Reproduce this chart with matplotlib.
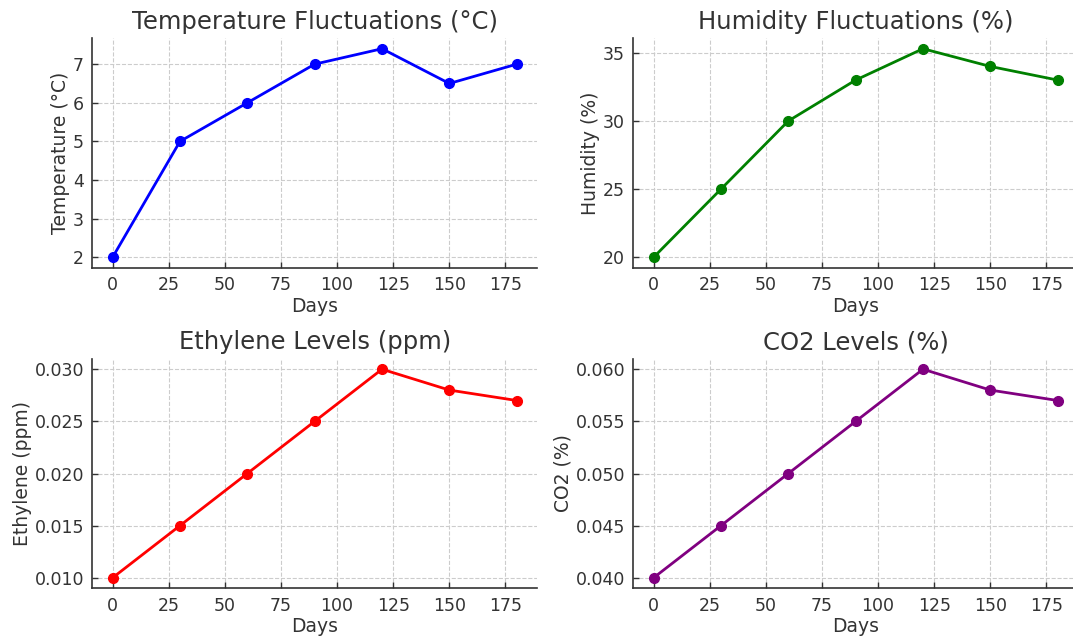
import matplotlib
matplotlib.use("Agg")
import matplotlib.pyplot as plt

days = [0, 30, 60, 90, 120, 150, 180]
temperature = [2, 5, 6, 7, 7.4, 6.5, 7]
humidity = [20, 25, 30, 33, 35.3, 34, 33]
ethylene = [0.010, 0.015, 0.020, 0.025, 0.030, 0.028, 0.027]
co2 = [0.040, 0.045, 0.050, 0.055, 0.060, 0.058, 0.057]

titles = ["Temperature Fluctuations (°C)", "Humidity Fluctuations (%)",
          "Ethylene Levels (ppm)", "CO2 Levels (%)"]
ylabels = ["Temperature (°C)", "Humidity (%)", "Ethylene (ppm)", "CO2 (%)"]
colors = ["blue", "green", "red", "purple"]
series = [temperature, humidity, ethylene, co2]

txt = "#333333"
plt.rcParams.update({
    "font.family": "DejaVu Sans",
    "text.color": txt,
    "axes.labelcolor": txt,
    "xtick.color": txt,
    "ytick.color": txt,
})

fig = plt.figure(figsize=(10.73, 6.37), dpi=100)
W = 444.5 / 1073
H = 229.4 / 637
positions = [
    (92.4 / 1073, (637 - 267.7) / 637),
    (633.4 / 1073, (637 - 267.7) / 637),
    (92.4 / 1073, (637 - 588.2) / 637),
    (633.4 / 1073, (637 - 588.2) / 637),
]

for (l, b), t, yl, c, s in zip(positions, titles, ylabels, colors, series):
    ax = fig.add_axes([l, b, W, H])
    ax.plot(days, s, color=c, marker="o", linewidth=2, markersize=7)
    ax.set_title(t, fontsize=17.5, color=txt, pad=7)
    ax.set_xlabel("Days", fontsize=13.5, labelpad=2)
    ax.set_ylabel(yl, fontsize=13.5, labelpad=2)
    ax.set_xticks([0, 25, 50, 75, 100, 125, 150, 175])
    ax.tick_params(direction="in", length=4, width=1, labelsize=12.5, pad=6)
    ax.grid(True, linestyle="--", color="#cccccc", linewidth=0.8)
    ax.set_axisbelow(True)
    for sp in ["top", "right"]:
        ax.spines[sp].set_visible(False)
    for sp in ["left", "bottom"]:
        ax.spines[sp].set_color("#333333")
        ax.spines[sp].set_linewidth(1.2)

fig.savefig("out.png", dpi=100)
